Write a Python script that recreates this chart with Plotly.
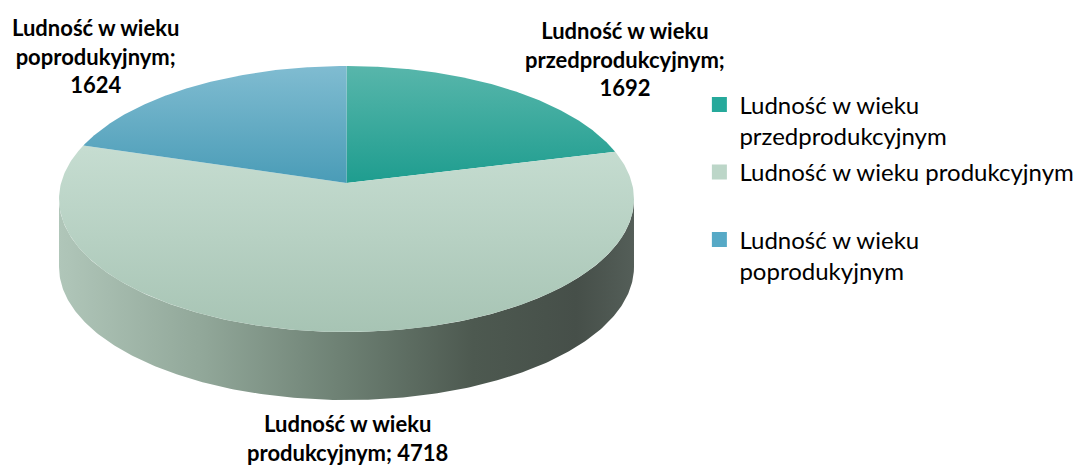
import numpy as np
import plotly.graph_objects as go

# ---- data ----
categories = ["Ludność w wieku przedprodukcyjnym",
              "Ludność w wieku produkcyjnym",
              "Ludność w wieku poprodukyjnym"]
values = [1692, 4718, 1624]
legend_names = ["Ludność w wieku<br>przedprodukcyjnym",
                "Ludność w wieku produkcyjnym<br> ",
                "Ludność w wieku<br>poprodukyjnym"]
label_names = ["Ludność w wieku<br>przedprodukcyjnym;",
               "Ludność w wieku<br>produkcyjnym;",
               "Ludność w wieku<br>poprodukyjnym;"]
label_seps = ["<br>", " ", "<br>"]

# ---- style ----
# [bottom colour, top colour]
top_colors = [["#1e9d8f", "#58b6ab"],
              ["#a7c4b4", "#c6ddd1"],
              ["#4a9cb7", "#80bcd1"]]
legend_colors = ["#26a99b", "#bcd6c8", "#56a9c6"]
side_scale = [[0.0, "#b0c6b9"], [0.25, "#91a799"], [0.5, "#6c7f72"],
              [0.72, "#4d5950"], [0.9, "#464f49"], [1.0, "#545e58"]]
label_pos = [(625, 59), (347, 438), (95, 56)]

# simple perspective of a tilted disc
CX, CY = 346.5, 183.0   # centre of the disc on screen
SX, SY = 285.4, 131.1   # horizontal / vertical scale
K = 0.1203              # perspective strength
DEPTH = 68.0


def proj(theta_deg, dy=0.0):
    t = np.radians(theta_deg)
    X, Z = np.sin(t), np.cos(t)
    d = 1.0 + K * Z
    return CX + SX * X / d, CY - SY * Z / d + dy


fig = go.Figure()

total = sum(values)
bounds = []
acc = 0.0
for v in values:
    a = acc / total * 360.0
    acc += v
    b = acc / total * 360.0
    bounds.append((a, b))

# silhouette angles of the disc
t_ext = np.degrees(np.arccos(-K))
side_lo, side_hi = t_ext, 360.0 - t_ext

# sides (front part visible)
for (a, b) in bounds:
    lo, hi = max(a, side_lo), min(b, side_hi)
    if hi <= lo:
        continue
    th = np.linspace(lo, hi, 240)
    xt, yt = proj(th)
    xb, yb = proj(th[::-1], DEPTH)
    xs = np.concatenate([xt, xb, xt[:1]])
    ys = np.concatenate([yt, yb, yt[:1]])
    fig.add_trace(go.Scatter(
        x=xs, y=ys, mode="lines", fill="toself",
        line=dict(width=0, color="rgba(0,0,0,0)"),
        fillgradient=dict(type="horizontal", colorscale=side_scale),
        hoverinfo="skip", showlegend=False))

# top faces
for i, (a, b) in enumerate(bounds):
    th = np.linspace(a, b, 240)
    xa, ya = proj(th)
    xs = np.concatenate([[CX], xa, [CX]])
    ys = np.concatenate([[CY], ya, [CY]])
    fig.add_trace(go.Scatter(
        x=xs, y=ys, mode="lines", fill="toself",
        line=dict(width=0, color="rgba(0,0,0,0)"),
        fillgradient=dict(type="vertical",
                          colorscale=[[0, top_colors[i][0]], [1, top_colors[i][1]]]),
        hoverinfo="skip", showlegend=False))

# legend entries
for i, name in enumerate(legend_names):
    fig.add_trace(go.Scatter(
        x=[None], y=[None], mode="markers", name=name,
        marker=dict(symbol="square", size=15, color=legend_colors[i]),
        legendgroup=f"g{i}", showlegend=True))

# data labels
for i in range(len(values)):
    x, y = label_pos[i]
    fig.add_annotation(
        x=x, y=y, xref="x", yref="y", showarrow=False,
        text=f"<b>{label_names[i]}{label_seps[i]}{values[i]}</b>",
        font=dict(family="Lato", size=22, color="#000000"),
        align="center", xanchor="center", yanchor="middle")

fig.update_layout(
    width=1086, height=466,
    margin=dict(l=0, r=0, t=0, b=0),
    paper_bgcolor="white", plot_bgcolor="white",
    xaxis=dict(range=[0, 1086], visible=False, fixedrange=True),
    yaxis=dict(range=[466, 0], visible=False, fixedrange=True),
    showlegend=True,
    legend=dict(x=0.644, y=0.823, xanchor="left", yanchor="top",
                font=dict(family="Lato", size=24, color="#000000"),
                valign="top", tracegroupgap=2, itemwidth=30,
                bgcolor="rgba(0,0,0,0)"),
)

fig.write_html("out.html",
               config={"displayModeBar": False},
               post_script="document.body.style.margin='0';document.body.style.overflow='hidden';")
